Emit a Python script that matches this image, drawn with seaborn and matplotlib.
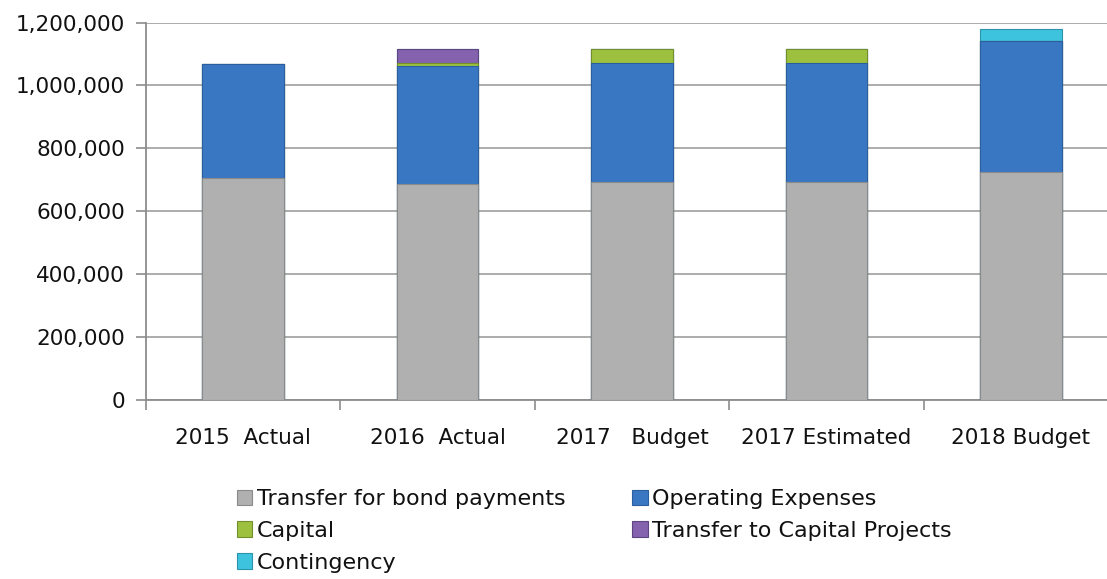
import numpy as np
import matplotlib
matplotlib.use("Agg")
import matplotlib.pyplot as plt
from matplotlib.ticker import FuncFormatter, FixedLocator
from matplotlib.patches import Patch
import seaborn as sns

categories = ["2015  Actual", "2016  Actual", "2017   Budget", "2017 Estimated", "2018 Budget"]
bond = [707000, 688000, 694000, 694000, 725000]
operating = [360000, 373000, 378000, 378000, 418000]
capital = [0, 9000, 45000, 45000, 0]
transfer_cp = [0, 47000, 0, 0, 0]
contingency = [0, 0, 0, 0, 38000]

series_names = ["Transfer for bond payments", "Operating Expenses", "Capital",
                "Transfer to Capital Projects", "Contingency"]
series_vals = [bond, operating, capital, transfer_cp, contingency]
colors = ["#B0B0B0", "#3A77C2", "#9DC13F", "#8462AE", "#3EC3DF"]
edges = ["#8A8A8A", "#2B5E9E", "#738F2C", "#5E4580", "#2B93AA"]

sns.set_theme(style="white")
plt.rcParams["font.family"] = ["DejaVu Sans"]

fig = plt.figure(figsize=(11.07, 5.79), dpi=100)
ax = fig.add_axes([0.1319, 0.309, 0.878, 0.652])

cum = np.cumsum(np.array(series_vals, dtype=float), axis=0)
# draw cumulative totals from top layer down so each lower layer covers the rest
for i in range(len(series_vals) - 1, -1, -1):
    sns.barplot(x=categories, y=cum[i], order=categories, color=colors[i],
                saturation=1, width=0.42, edgecolor=edges[i], linewidth=0.8,
                ax=ax, zorder=3)

ax.set_xlim(-0.5, 4.5)
ax.set_ylim(0, 1200000)
ax.yaxis.set_major_locator(FixedLocator(np.arange(0, 1200001, 200000)))
ax.yaxis.set_major_formatter(FuncFormatter(lambda v, p: f"{int(v):,}"))
ax.grid(axis="y", color="#A6A6A6", linewidth=1.3, zorder=0)
ax.grid(axis="x", visible=False)
ax.set_axisbelow(True)

for s in ["top", "right"]:
    ax.spines[s].set_visible(False)
for s in ["left", "bottom"]:
    ax.spines[s].set_color("#8C8C8C")
    ax.spines[s].set_linewidth(1.3)

ax.tick_params(axis="y", which="major", left=True, length=7, width=1.2,
               color="#8C8C8C", labelsize=15.5, pad=8, labelcolor="#111111")
ax.set_xticks(range(len(categories)))
ax.set_xticklabels(categories)
ax.set_xticks(np.arange(-0.5, 5.0, 1.0), minor=True)
ax.tick_params(axis="x", which="major", length=0, labelsize=15.5, pad=20, labelcolor="#111111")
ax.tick_params(axis="x", which="minor", bottom=True, length=7, width=1.2, color="#8C8C8C")
ax.set_xlabel("")
ax.set_ylabel("")

order = [0, 2, 4, 1, 3]
handles = [Patch(facecolor=colors[i], edgecolor=edges[i], linewidth=0.8) for i in order]
labels = [series_names[i] for i in order]
fig.legend(handles, labels, ncol=2, loc="upper left",
           bbox_to_anchor=(0.214, 0.155), frameon=False, fontsize=16,
           handlelength=0.7, handleheight=0.7, handletextpad=0.2,
           columnspacing=3.0, labelspacing=0.53, borderaxespad=0, borderpad=0,
           labelcolor="#111111")

fig.savefig("out.png", dpi=100)
